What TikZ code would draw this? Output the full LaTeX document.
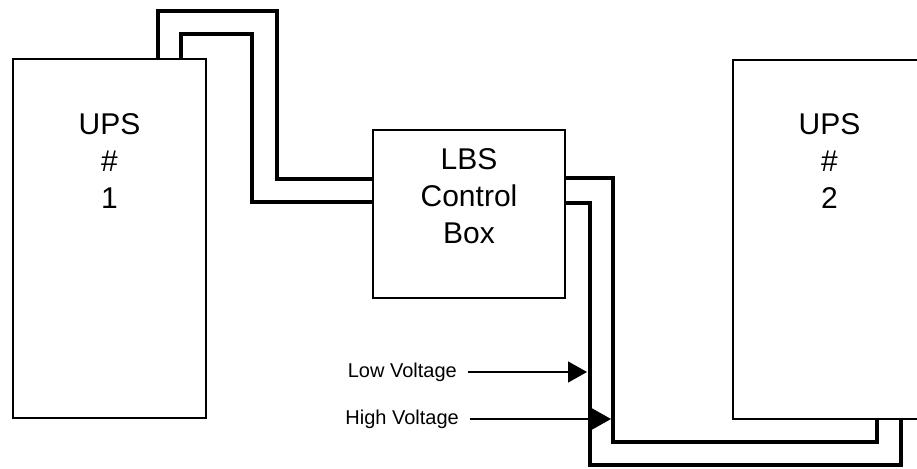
\documentclass[tikz,border=0pt]{standalone}
\usepackage{fontspec}
\setmainfont{Liberation Sans}
\usetikzlibrary{arrows.meta}

\begin{document}
\begin{tikzpicture}[
  x=1pt,y=-1pt,
  box/.style={draw,line width=1.2pt,minimum width=193pt,minimum height=359pt,inner sep=0pt},
  cbox/.style={box,minimum width=192pt,minimum height=168pt},
  txt/.style={align=center,inner sep=0pt,font=\fontsize{30}{37}\selectfont},
  wire/.style={line width=4.5pt},
  lbl/.style={inner xsep=11pt,inner ysep=0pt,anchor=east,font=\fontsize{20}{24}\selectfont},
  arr/.style={line width=1.4pt,-{Triangle[length=19pt,width=21pt]}}
]
  \useasboundingbox (0,0) rectangle (917,468);
  % units
  \node[box] (ups1) at (109.5,238.5) {};
  \node[box] (ups2) at (829.5,239.5) {};
  \node[cbox] (lbs) at (469,214) {};
  \node[txt] (ups1t) at (109.5,161) {UPS\\\#\\1};
  \node[txt] (ups2t) at (829.5,161) {UPS\\\#\\2};
  \node[txt] (lbst) at (469,196) {LBS\\Control\\Box};
  % wires
  \draw[wire] ([xshift=48.5pt]ups1.north) |- (277,11) |- ([yshift=35pt]lbs.west);
  \draw[wire] ([xshift=71.5pt]ups1.north) |- (252,34) |- ([yshift=12pt]lbs.west);
  \draw[wire] ([yshift=36pt]lbs.east) -| (613,442) -| ([xshift=47.5pt]ups2.south);
  \draw[wire] ([yshift=11pt]lbs.east) -| (590,465) -| ([xshift=71.5pt]ups2.south);
  % voltage labels
  \node[lbl] (low) at (468,372) {Low Voltage};
  \node[lbl] (high) at (470,419) {High Voltage};
  \coordinate (lowtip) at (587,372);
  \coordinate (hightip) at (611,419);
  \draw[arr] (low.east) -- (lowtip);
  \draw[arr] (high.east) -- (hightip);
\end{tikzpicture}
\end{document}
